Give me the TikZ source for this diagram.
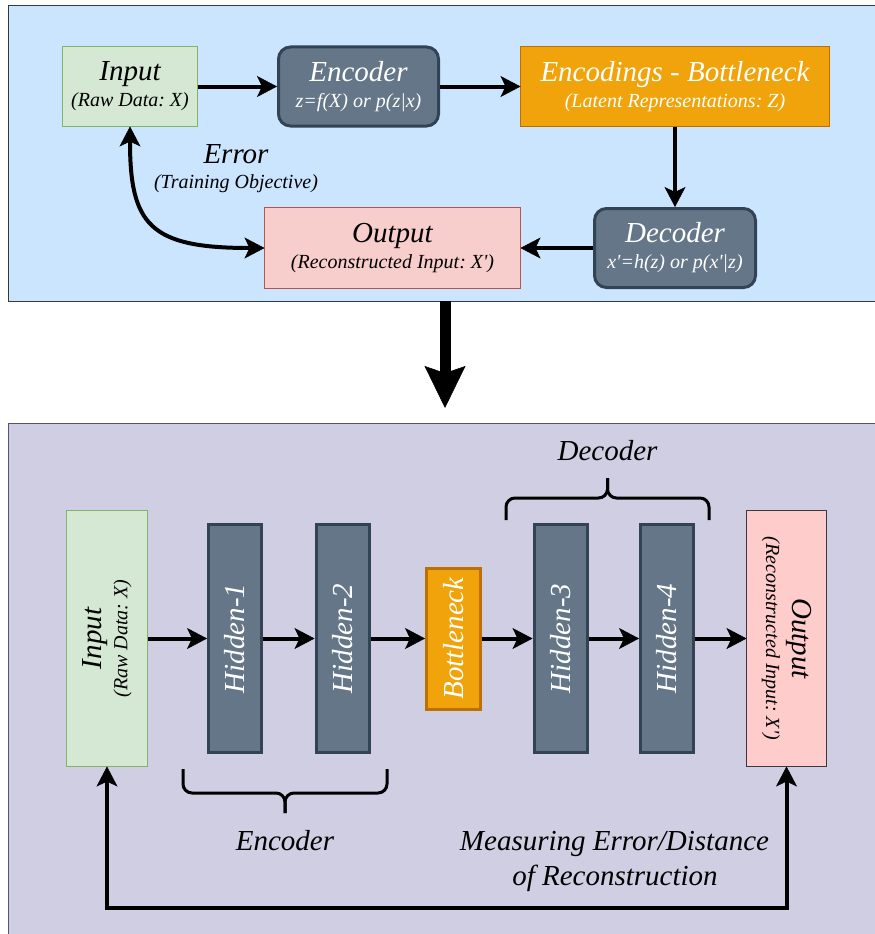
\documentclass[tikz,border=0pt]{standalone}
\usepackage{fontspec}
\setmainfont{Liberation Serif}
\usetikzlibrary{arrows.meta}
\frenchspacing

\definecolor{topF}{HTML}{CCE5FF}
\definecolor{topD}{HTML}{36393D}
\definecolor{botF}{HTML}{D0CEE2}
\definecolor{botD}{HTML}{56517E}
\definecolor{greenF}{HTML}{D5E8D4}
\definecolor{greenD}{HTML}{82B366}
\definecolor{slateF}{HTML}{647687}
\definecolor{slateD}{HTML}{314354}
\definecolor{orangeF}{HTML}{F0A30A}
\definecolor{orangeD}{HTML}{BD7000}
\definecolor{redF}{HTML}{F8CECC}
\definecolor{redD}{HTML}{B85450}
\definecolor{pinkF}{HTML}{FFCCCC}

\newcommand\aeTitle{\fontsize{29}{34}\selectfont\itshape}
\newcommand\aeSub{\fontsize{20}{26}\selectfont\itshape}

\begin{document}
\begin{tikzpicture}[x=1pt,y=-1pt,
  every node/.style={inner sep=0pt, outer sep=0pt},
  panel/.style={draw, line width=1pt, anchor=north west},
  box/.style={draw, align=center, font=\aeSub, line width=1pt},
  greenbox/.style={box, fill=greenF, draw=greenD},
  redbox/.style={box, fill=redF, draw=redD},
  pinkbox/.style={box, fill=pinkF, draw=topD},
  slatebox/.style={box, fill=slateF, draw=slateD, line width=3pt, text=white, outer sep=1.5pt},
  orangebox/.style={box, fill=orangeF, draw=orangeD, text=white},
  layer/.style={slatebox, rotate=90, font=\aeTitle, minimum width=228pt, minimum height=53pt},
  lbl/.style={font=\aeTitle, anchor=base},
  sublbl/.style={font=\aeSub, anchor=base},
  tipA/.tip={Stealth[length=20pt,width=21pt,inset=5pt,line width=0.5pt]},
  arr/.style={line width=4pt, -tipA},
  biarr/.style={line width=4pt, tipA-tipA},
  brace/.style={line width=3pt, rounded corners=9pt},
  bigarr/.style={line width=11pt, -{Stealth[length=42pt,width=41pt,inset=7pt,line width=0.5pt]}}
]
\useasboundingbox (0,0) rectangle (875,934);

% ---------- upper panel: block view ----------
\node[panel, fill=topF, draw=topD, minimum width=880pt, minimum height=295pt] (tp) at (8,6) {};

\node[greenbox, minimum width=135pt, minimum height=80pt] (in) at (130,86.5)
  {{\aeTitle Input}\\(Raw Data: X)};
\node[slatebox, rounded corners=12pt, minimum width=160pt, minimum height=79pt] (enc) at (358.5,86.5)
  {{\aeTitle Encoder}\\z=f(X) or p(z|x)};
\node[orangebox, minimum width=309pt, minimum height=80pt] (code) at (675,86.5)
  {{\aeTitle Encodings - Bottleneck}\\(Latent Representations: Z)};
\node[slatebox, rounded corners=12pt, minimum width=161pt, minimum height=79pt] (dec) at (675,248)
  {{\aeTitle Decoder}\\x\textquotesingle=h(z) or p(x\textquotesingle|z)};
\node[redbox, minimum width=256pt, minimum height=81pt] (out) at (392.5,248)
  {{\aeTitle Output}\\(Reconstructed Input: X\textquotesingle)};

\draw[arr] (in) -- (enc);
\draw[arr] (enc) -- (code);
\draw[arr] (code) -- (dec);
\draw[arr] (dec) -- (out);
\draw[biarr] (in.south) .. controls (130,225) and (150,248) .. (out.west);

\node[lbl] (err) at (236,163) {Error};
\node[sublbl] (errsub) at (236,188) {(Training Objective)};

% ---------- transition ----------
\coordinate (bigtip) at (445,408);
\draw[bigarr] (tp.south -| bigtip) -- (bigtip);

% ---------- lower panel: layer view ----------
\node[panel, fill=botF, draw=botD, minimum width=880pt, minimum height=520pt] (bp) at (8,423) {};

\node[greenbox, rotate=90, minimum width=256pt, minimum height=81pt] (bin) at (107,638.5)
  {{\aeTitle Input}\\(Raw Data: X)};
\node[layer] (h1) at (235,638.5) {Hidden-1};
\node[layer] (h2) at (342.5,638.5) {Hidden-2};
\node[orangebox, rotate=90, font=\aeTitle, line width=3pt, outer sep=1.5pt, minimum width=141pt, minimum height=54pt] (bn) at (453.5,638.5) {Bottleneck};
\node[layer] (h3) at (560.5,638.5) {Hidden-3};
\node[layer] (h4) at (667,638.5) {Hidden-4};
\node[pinkbox, rotate=-90, minimum width=256pt, minimum height=80pt] (bout) at (786.5,638.5)
  {{\aeTitle Output}\\(Reconstructed Input: X\textquotesingle)};

\draw[arr] (bin) -- (h1);
\draw[arr] (h1) -- (h2);
\draw[arr] (h2) -- (bn);
\draw[arr] (bn) -- (h3);
\draw[arr] (h3) -- (h4);
\draw[arr] (h4) -- (bout);

% feedback loop comparing output with input
\coordinate (fb) at (0,908);
\draw[biarr] (bin) -- (bin |- fb) -- (bout |- fb) -- (bout);

% encoder brace (tip down)
\coordinate (ebL) at (183,769);
\coordinate (ebR) at (387,769);
\coordinate (ebM) at (285,793);
\coordinate (ebT) at (285,813);
\draw[brace] (ebL) |- (ebM) -- (ebT);
\draw[brace] (ebR) |- (ebM) -- (ebT);
\node[lbl] (enclbl) at (285,850) {Encoder};

% decoder brace (tip up)
\coordinate (dbL) at (506,520);
\coordinate (dbR) at (709,520);
\coordinate (dbM) at (607.5,498);
\coordinate (dbT) at (607.5,478);
\draw[brace] (dbL) |- (dbM) -- (dbT);
\draw[brace] (dbR) |- (dbM) -- (dbT);
\node[lbl] (declbl) at (607.5,460) {Decoder};

\node[lbl] (meas1) at (614.5,850) {Measuring Error/Distance};
\node[lbl] (meas2) at (615,885) {of Reconstruction};
\end{tikzpicture}
\end{document}
